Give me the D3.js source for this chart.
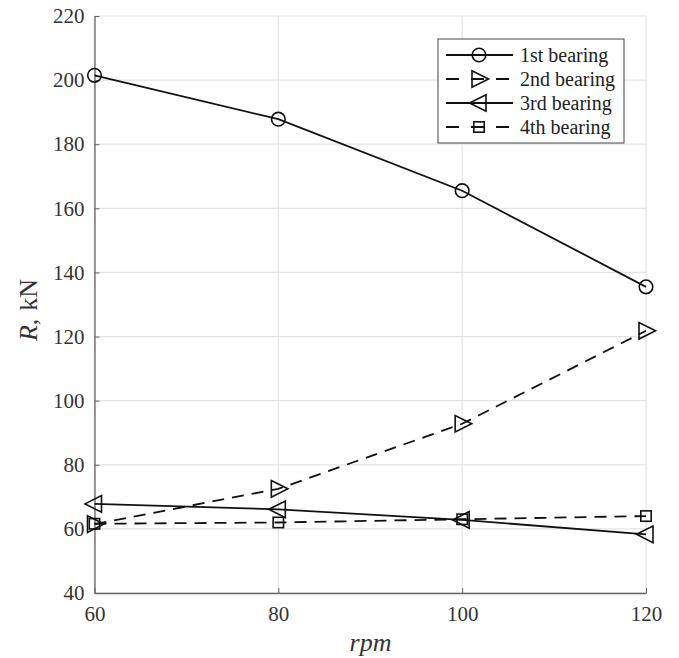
<!DOCTYPE html>
<html><head><meta charset="utf-8">
<script src="https://cdn.jsdelivr.net/npm/d3@7"></script>
<style>body{margin:0;background:#fff}</style>
</head><body>
<svg id="c" width="679" height="658"></svg>
<script>
const rpm = [60, 80, 100, 120];
const bearing1 = [201.5, 187.8, 165.5, 135.5];
const bearing2 = [61.5, 72.5, 92.8, 121.8];
const bearing3 = [67.8, 66.1, 62.8, 58.3];
const bearing4 = [61.6, 62.0, 63.0, 64.0];
const seriesNames = ["1st bearing", "2nd bearing", "3rd bearing", "4th bearing"];
const xTicks = [60, 80, 100, 120];
const yTicks = [40, 60, 80, 100, 120, 140, 160, 180, 200, 220];

const series = [
  {name: seriesNames[0], values: bearing1, dash: null, marker: "circle"},
  {name: seriesNames[1], values: bearing2, dash: "12,8", marker: "triRight"},
  {name: seriesNames[2], values: bearing3, dash: null, marker: "triLeft"},
  {name: seriesNames[3], values: bearing4, dash: "12,8", marker: "square"}
];

const svg = d3.select("#c");
const L = 94.5, R = 646, T = 16, B = 593;
const x = d3.scaleLinear().domain([60, 120]).range([L, R]);
const y = d3.scaleLinear().domain([40, 220]).range([B, T]);
const font = "'Liberation Serif', 'Times New Roman', Tinos, serif";

// grid
const g = svg.append("g");
g.selectAll("line.gx").data(xTicks).join("line")
  .attr("x1", d => x(d)).attr("x2", d => x(d)).attr("y1", T).attr("y2", B)
  .attr("stroke", "#e3e3e3").attr("stroke-width", 1.2);
g.selectAll("line.gy").data(yTicks).join("line")
  .attr("x1", L).attr("x2", R).attr("y1", d => y(d)).attr("y2", d => y(d))
  .attr("stroke", "#e3e3e3").attr("stroke-width", 1.2);

// axes
const xAxis = svg.append("g").attr("transform", `translate(0,${B})`)
  .call(d3.axisBottom(x).tickValues(xTicks).tickSize(-5).tickPadding(13.5).tickSizeOuter(0));
const yAxis = svg.append("g").attr("transform", `translate(${L},0)`)
  .call(d3.axisLeft(y).tickValues(yTicks).tickSize(-5).tickPadding(10).tickSizeOuter(0));
[xAxis, yAxis].forEach(a => {
  a.select(".domain").attr("stroke", "#666").attr("stroke-width", 1.3);
  a.selectAll(".tick line").attr("stroke", "#666").attr("stroke-width", 1);
  a.selectAll(".tick text").attr("fill", "#333").style("font-family", font).style("font-size", "21px");
});

// axis labels
svg.append("text").attr("x", 370.5).attr("y", 651).attr("text-anchor", "middle")
  .style("font-family", font).style("font-size", "26px").style("font-style", "italic").attr("fill", "#333")
  .text("rpm");
const yl = svg.append("text").attr("transform", `translate(37,310) rotate(-90)`)
  .attr("text-anchor", "middle").style("font-family", font).style("font-size", "26px").attr("fill", "#333");
yl.append("tspan").style("font-style", "italic").text("R");
yl.append("tspan").text(",");
yl.append("tspan").attr("dx", 8).text("kN");

function drawMarker(sel, type, cx, cy) {
  const st = s => s.attr("fill", "none").attr("stroke", "#111").attr("stroke-width", 1.6);
  if (type === "circle") st(sel.append("circle").attr("cx", cx).attr("cy", cy).attr("r", 6.8));
  else if (type === "square") st(sel.append("rect").attr("x", cx - 5.2).attr("y", cy - 5.2).attr("width", 10.4).attr("height", 10.4));
  else if (type === "triRight") st(sel.append("path").attr("d", `M${cx+9.5},${cy} L${cx-7},${cy-8.3} L${cx-7},${cy+8.3} Z`));
  else if (type === "triLeft") st(sel.append("path").attr("d", `M${cx-9.5},${cy} L${cx+7},${cy-8.3} L${cx+7},${cy+8.3} Z`));
}

const line = d3.line().x((d, i) => x(rpm[i])).y(d => y(d));
series.forEach(s => {
  const gs = svg.append("g");
  gs.append("path").attr("d", line(s.values)).attr("fill", "none")
    .attr("stroke", "#111").attr("stroke-width", 1.8)
    .attr("stroke-dasharray", s.dash);
  s.values.forEach((v, i) => drawMarker(gs, s.marker, x(rpm[i]), y(v)));
});

// legend
const lg = svg.append("g");
lg.append("rect").attr("x", 438).attr("y", 39).attr("width", 186).attr("height", 104)
  .attr("fill", "#fff").attr("stroke", "#444").attr("stroke-width", 1);
series.forEach((s, i) => {
  const yy = 55 + i * 24;
  lg.append("line").attr("x1", 446).attr("x2", 513).attr("y1", yy).attr("y2", yy)
    .attr("stroke", "#111").attr("stroke-width", 1.8).attr("stroke-dasharray", s.dash ? "13,12" : null);
  drawMarker(lg, s.marker, 479, yy);
  lg.append("text").attr("x", 520).attr("y", yy).attr("dy", "0.35em")
    .style("font-family", font).style("font-size", "20px").attr("fill", "#222").text(s.name);
});
</script>
</body></html>
